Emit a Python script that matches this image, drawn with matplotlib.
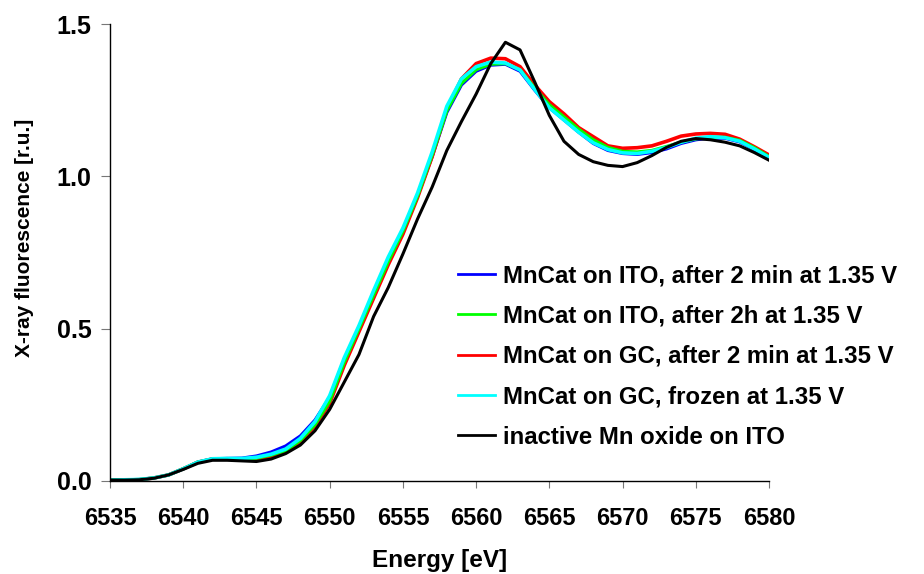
import matplotlib
matplotlib.use("Agg")
import matplotlib.pyplot as plt
import numpy as np

plt.rcParams['font.family'] = ['Liberation Sans', 'DejaVu Sans']
plt.rcParams['font.weight'] = 'bold'

#### --------------------------------------------------- data

energy = np.arange(6535, 6581, 1)

ito_2min = [0.003, 0.004, 0.005, 0.010, 0.020, 0.040, 0.062, 0.073, 0.074, 0.075,
            0.082, 0.095, 0.115, 0.148, 0.200, 0.275, 0.400, 0.505, 0.615, 0.725,
            0.825, 0.935, 1.065, 1.210, 1.300, 1.345, 1.365, 1.368, 1.345, 1.283,
            1.225, 1.185, 1.145, 1.108, 1.085, 1.075, 1.072, 1.078, 1.090, 1.108,
            1.120, 1.126, 1.125, 1.113, 1.088, 1.060]

ito_2h = [0.003, 0.004, 0.005, 0.010, 0.020, 0.040, 0.062, 0.072, 0.073, 0.072,
          0.075, 0.085, 0.100, 0.133, 0.185, 0.262, 0.390, 0.500, 0.610, 0.720,
          0.820, 0.935, 1.070, 1.215, 1.305, 1.350, 1.368, 1.370, 1.350, 1.290,
          1.235, 1.195, 1.155, 1.120, 1.095, 1.082, 1.080, 1.085, 1.098, 1.112,
          1.123, 1.128, 1.128, 1.118, 1.094, 1.065]

gc_2min = [0.003, 0.003, 0.004, 0.010, 0.020, 0.040, 0.062, 0.072, 0.073, 0.070,
           0.072, 0.080, 0.098, 0.128, 0.180, 0.255, 0.380, 0.490, 0.600, 0.710,
           0.810, 0.930, 1.065, 1.220, 1.320, 1.370, 1.388, 1.386, 1.360, 1.300,
           1.245, 1.205, 1.160, 1.130, 1.100, 1.092, 1.094, 1.100, 1.115, 1.132,
           1.139, 1.141, 1.138, 1.122, 1.097, 1.070]

gc_frozen = [0.003, 0.004, 0.005, 0.010, 0.020, 0.040, 0.062, 0.073, 0.074, 0.074,
             0.078, 0.088, 0.105, 0.140, 0.195, 0.280, 0.405, 0.510, 0.625, 0.735,
             0.830, 0.945, 1.080, 1.230, 1.320, 1.360, 1.375, 1.372, 1.349, 1.285,
             1.225, 1.185, 1.145, 1.110, 1.088, 1.077, 1.075, 1.082, 1.095, 1.112,
             1.125, 1.130, 1.127, 1.115, 1.090, 1.062]

inactive = [0.003, 0.003, 0.004, 0.009, 0.020, 0.038, 0.058, 0.068, 0.068, 0.066,
            0.064, 0.072, 0.090, 0.118, 0.165, 0.235, 0.325, 0.415, 0.540, 0.635,
            0.745, 0.860, 0.965, 1.085, 1.180, 1.270, 1.370, 1.440, 1.415, 1.310,
            1.200, 1.115, 1.072, 1.048, 1.036, 1.032, 1.045, 1.068, 1.095, 1.115,
            1.124, 1.120, 1.112, 1.100, 1.078, 1.053]

labels = ['MnCat on ITO, after 2 min at 1.35 V',
          'MnCat on ITO, after 2h at 1.35 V',
          'MnCat on GC, after 2 min at 1.35 V',
          'MnCat on GC, frozen at 1.35 V',
          'inactive Mn oxide on ITO']

xticks = [6535, 6540, 6545, 6550, 6555, 6560, 6565, 6570, 6575, 6580]
yticks = [0.0, 0.5, 1.0, 1.5]

#### --------------------------------------------------- plot

fig = plt.figure(figsize=(9.24, 5.74), dpi=100)
ax = fig.add_axes([110/924, 1-481/574, 659/924, 457/574])

l_blue, = ax.plot(energy, ito_2min, color='#0000FF', lw=2.3)
l_red, = ax.plot(energy, gc_2min, color='#FF0000', lw=2.6)
l_green, = ax.plot(energy, ito_2h, color='#00FF00', lw=2.3)
l_cyan, = ax.plot(energy, gc_frozen, color='#00FFFF', lw=2.6)
l_black, = ax.plot(energy, inactive, color='black', lw=2.2)

ax.set_xlim(6535, 6580)
ax.set_ylim(0, 1.5)
ax.set_xticks(xticks)
ax.set_yticks(yticks)
ax.set_yticklabels(['%.1f' % v for v in yticks])

for s in ['top', 'right']:
    ax.spines[s].set_visible(False)
for s in ['left', 'bottom']:
    ax.spines[s].set_linewidth(1.0)

ax.tick_params(axis='x', direction='out', length=5, width=0.8, color='#777777',
               labelsize=17, pad=14)
ax.tick_params(axis='y', direction='out', length=6.3, width=0.8, color='#777777',
               labelsize=18, pad=7)

fig.text(440/924, 1-561/574, 'Energy [eV]', ha='center', va='center',
         fontsize=17.5, fontweight='bold')
fig.text(25/924, 1-237.5/574, 'X-ray fluorescence [r.u.]', ha='center', va='center',
         rotation=90, fontsize=15, fontweight='bold')

leg = ax.legend([l_blue, l_green, l_red, l_cyan, l_black], labels,
                loc='center left', bbox_to_anchor=(458/924, 1-356.5/574),
                bbox_transform=fig.transFigure, frameon=False,
                borderpad=0, borderaxespad=0, handlelength=1.55,
                handletextpad=0.33, labelspacing=0.72,
                prop={'size': 17.3, 'weight': 'bold'})
for h in leg.get_lines():
    h.set_linewidth(2.0)

plt.savefig('out.png', dpi=100)
